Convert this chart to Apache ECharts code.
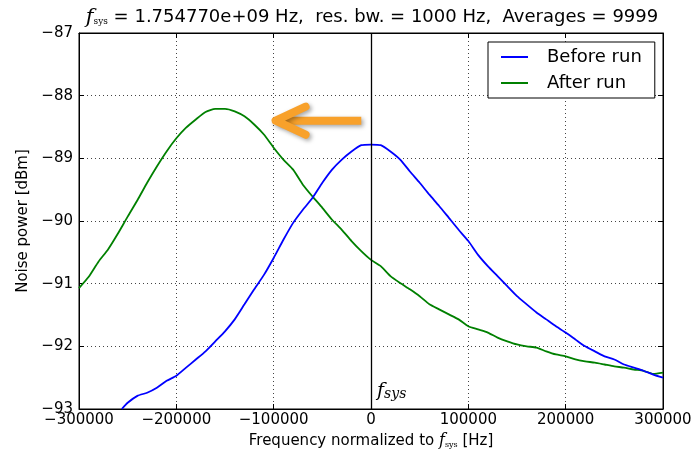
<!DOCTYPE html>
<html>
<head>
<meta charset="utf-8">
<script src="https://cdn.jsdelivr.net/npm/echarts@6/dist/echarts.min.js"></script>
<style>
  html, body { margin: 0; padding: 0; background: #fff; }
  #main { width: 695px; height: 449px; }
</style>
</head>
<body>
<div id="main"></div>
<script>
// Before run (blue), Hz / dBm
var beforeFreq = [-256000, -250000, -240000, -230000, -220000, -210000, -200000, -190000, -180000,
    -170000, -160000, -150000, -140000, -130000, -120000, -110000, -100000, -90000, -80000,
    -70000, -60000, -50000, -40000, -30000, -20000, -10000, 0, 10000, 20000, 30000, 40000,
    50000, 60000, 70000, 80000, 90000, 100000, 110000, 120000, 130000, 140000, 150000,
    160000, 170000, 180000, 190000, 200000, 210000, 220000, 230000, 240000, 250000,
    260000, 270000, 280000, 290000, 300000];
var beforePower = [-93.00, -92.90, -92.79, -92.74, -92.66, -92.55, -92.47, -92.34, -92.21,
    -92.08, -91.92, -91.76, -91.57, -91.33, -91.09, -90.86, -90.59, -90.30, -90.03,
    -89.82, -89.63, -89.39, -89.18, -89.02, -88.89, -88.79, -88.78, -88.79, -88.89, -89.02, -89.21,
    -89.39, -89.58, -89.76, -89.95, -90.14, -90.32, -90.54, -90.72, -90.88, -91.04, -91.20,
    -91.33, -91.46, -91.57, -91.68, -91.78, -91.89, -92.00, -92.08, -92.16, -92.21,
    -92.29, -92.34, -92.39, -92.45, -92.50];

// After run (green)
var afterFreq = [-300000, -290000, -280000, -270000, -260000, -250000, -240000, -230000, -220000,
    -210000, -200000, -190000, -180000, -170000, -160000, -150000, -140000, -130000, -120000,
    -110000, -100000, -90000, -80000, -70000, -60000, -50000, -40000, -30000, -20000, -10000,
    0, 10000, 20000, 30000, 40000, 50000, 60000, 70000, 80000, 90000, 100000, 110000,
    120000, 130000, 140000, 150000, 160000, 170000, 180000, 190000, 200000, 210000,
    220000, 230000, 240000, 250000, 260000, 270000, 280000, 290000, 300000];
var afterPower = [-91.07, -90.89, -90.65, -90.45, -90.20, -89.93, -89.67, -89.39, -89.13,
    -88.89, -88.68, -88.51, -88.38, -88.26, -88.21, -88.21, -88.25, -88.33, -88.46,
    -88.62, -88.83, -89.02, -89.18, -89.42, -89.61, -89.79, -89.98, -90.14, -90.32, -90.48,
    -90.62, -90.72, -90.88, -90.99, -91.09, -91.20, -91.33, -91.41, -91.49, -91.57, -91.68, -91.73,
    -91.78, -91.86, -91.92, -91.97, -92.00, -92.02, -92.08, -92.13, -92.16, -92.21,
    -92.24, -92.26, -92.29, -92.32, -92.34, -92.37, -92.39, -92.44, -92.42];

var seriesNames = ['Before run', 'After run'];
var xTicks = { min: -300000, max: 300000, interval: 100000 };
var yTicks = { min: -93, max: -87, interval: 1 };

// orange arrow annotation (data coords)
var arrowTail = [-10000, -88.40];
var arrowTip = [-98000, -88.40];

function pairs(xs, ys) {
    var out = [];
    for (var i = 0; i < xs.length; i++) out.push([xs[i], ys[i]]);
    return out;
}
function minus(v) { return String(v).replace('-', '\u2212'); }

var FONT = 'DejaVu Sans';

var myChart = echarts.init(document.getElementById('main'));
var option = {
    animation: false,
    backgroundColor: '#fff',
    title: {
        text: '{f|f}{s|sys} = 1.754770e+09 Hz,  res. bw. = 1000 Hz,  Averages = 9999',
        left: 372, top: 7, textAlign: 'center', padding: 0,
        textStyle: {
            fontFamily: FONT, fontSize: 18, fontWeight: 'normal', color: '#000',
            rich: {
                f: { fontFamily: 'DejaVu Serif', fontStyle: 'italic', fontSize: 21, color: '#000' },
                s: { fontFamily: 'DejaVu Serif', fontSize: 9, color: '#000', padding: [9, 0, 0, 0] }
            }
        }
    },
    legend: {
        data: seriesNames,
        orient: 'vertical',
        left: 488, top: 42,
        padding: [6, 13, 6, 13],
        borderColor: '#000', borderWidth: 1,
        backgroundColor: '#fff',
        icon: 'rect', itemWidth: 27, itemHeight: 2, itemGap: 8,
        textStyle: { fontFamily: FONT, fontSize: 18, color: '#000', padding: [0, 0, 0, 14] }
    },
    grid: {
        left: 79, right: 32, top: 33, bottom: 40, outerBoundsMode: 'none',
        show: true, borderColor: '#000', borderWidth: 1
    },
    xAxis: [{
        type: 'value', min: xTicks.min, max: xTicks.max, interval: xTicks.interval,
        name: 'Frequency normalized to {f|f}{s|sys} [Hz]',
        nameLocation: 'middle', nameGap: 24,
        nameTextStyle: {
            fontFamily: FONT, fontSize: 15, color: '#000',
            rich: {
                f: { fontFamily: 'DejaVu Serif', fontStyle: 'italic', fontSize: 16, color: '#000' },
                s: { fontFamily: 'DejaVu Serif', fontSize: 8, color: '#000', padding: [7, 0, 0, 0] }
            }
        },
        axisLine: { show: true, onZero: false, lineStyle: { color: '#000' } },
        axisTick: { inside: true, length: 5, lineStyle: { color: '#000' } },
        axisLabel: { fontFamily: FONT, fontSize: 15, color: '#000', margin: 4, formatter: minus },
        splitLine: { show: true, lineStyle: { color: '#444', type: [1, 3], width: 1 } }
    }, {
        type: 'value', position: 'top', min: xTicks.min, max: xTicks.max, interval: xTicks.interval,
        axisLine: { show: true, onZero: false, lineStyle: { color: '#000' } },
        axisTick: { inside: true, length: 5, lineStyle: { color: '#000' } },
        axisLabel: { show: false }, splitLine: { show: false }
    }],
    yAxis: [{
        type: 'value', min: yTicks.min, max: yTicks.max, interval: yTicks.interval,
        name: 'Noise power [dBm]', nameLocation: 'middle', nameGap: 36,
        nameTextStyle: { fontFamily: FONT, fontSize: 15, color: '#000' },
        axisLine: { show: true, onZero: false, lineStyle: { color: '#000' } },
        axisTick: { inside: true, length: 5, lineStyle: { color: '#000' } },
        axisLabel: { fontFamily: FONT, fontSize: 15, color: '#000', margin: 6, formatter: minus },
        splitLine: { show: true, lineStyle: { color: '#444', type: [1, 3], width: 1 } }
    }, {
        type: 'value', position: 'right', min: yTicks.min, max: yTicks.max, interval: yTicks.interval,
        axisLine: { show: true, onZero: false, lineStyle: { color: '#000' } },
        axisTick: { inside: true, length: 5, lineStyle: { color: '#000' } },
        axisLabel: { show: false }, splitLine: { show: false }
    }],
    series: [{
        name: seriesNames[0], type: 'line', showSymbol: false, smooth: 0.2,
        data: pairs(beforeFreq, beforePower),
        lineStyle: { color: '#0000ff', width: 1.8 }, itemStyle: { color: '#0000ff' },
        markLine: {
            silent: true, symbol: 'none', label: { show: false },
            lineStyle: { color: '#000', type: 'solid', width: 1.3 },
            data: [{ xAxis: 0 }]
        },
        markPoint: {
            silent: true, symbolSize: 0,
            data: [{ coord: [0, -92.72] }],
            label: {
                show: true, position: 'right', distance: 6,
                formatter: '{f|f}{s|sys}',
                rich: {
                    f: { fontFamily: 'DejaVu Serif', fontStyle: 'italic', fontSize: 19, color: '#000' },
                    s: { fontFamily: 'DejaVu Serif', fontStyle: 'italic', fontSize: 14, color: '#000', padding: [5, 0, 0, 0] }
                }
            }
        },
        z: 3
    }, {
        name: seriesNames[1], type: 'line', showSymbol: false, smooth: 0.2,
        data: pairs(afterFreq, afterPower),
        lineStyle: { color: '#008000', width: 1.8 }, itemStyle: { color: '#008000' },
        z: 2
    }]
};
myChart.setOption(option);

// orange arrow, placed through the chart's scales
var tail = myChart.convertToPixel({ gridIndex: 0 }, arrowTail);
var tip = myChart.convertToPixel({ gridIndex: 0 }, arrowTip);
var armDx = 30, armDy = 14;
var arrowStyle = {
    stroke: '#f8a12b', lineWidth: 8, lineCap: 'round', lineJoin: 'round', fill: null,
    shadowColor: 'rgba(0,0,0,0.35)', shadowBlur: 4, shadowOffsetX: 2, shadowOffsetY: 2
};
myChart.setOption({
    graphic: [{
        type: 'group', z: 100,
        children: [{
            type: 'line', shape: { x1: tail[0], y1: tail[1], x2: tip[0] + 2, y2: tip[1] },
            style: Object.assign({}, arrowStyle, { lineCap: 'butt' })
        }, {
            type: 'polyline',
            shape: { points: [[tip[0] + armDx, tip[1] - armDy], [tip[0], tip[1]], [tip[0] + armDx, tip[1] + armDy]] },
            style: arrowStyle
        }]
    }]
});
</script>
</body>
</html>
